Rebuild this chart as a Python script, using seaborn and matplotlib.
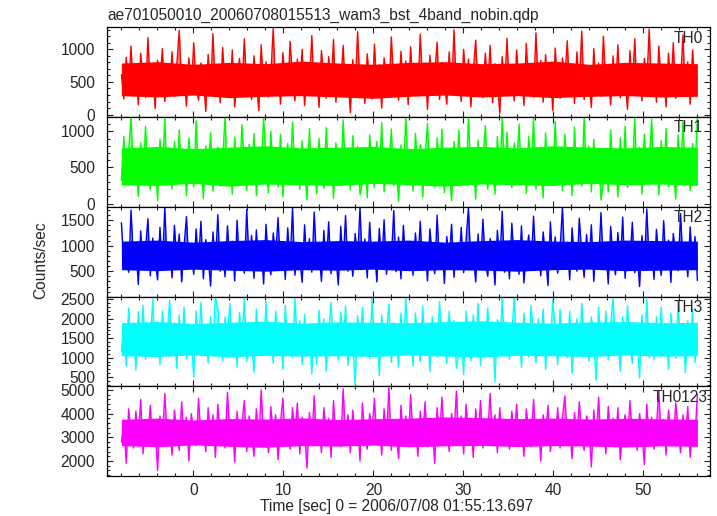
import os
import numpy as np
import pandas as pd
import matplotlib
matplotlib.use("Agg")
import matplotlib.pyplot as plt
import seaborn as sns
from matplotlib import font_manager as fm
from matplotlib.ticker import MultipleLocator, FixedLocator

sns.set_style("ticks")
plt.rcParams['font.family'] = ['Liberation Sans', 'DejaVu Sans']

# ---------------- data ----------------
TITLE = "ae701050010_20060708015513_wam3_bst_4band_nobin.qdp"
X_LABEL = "Time [sec] 0 = 2006/07/08 01:55:13.697"
Y_LABEL = "Counts/sec"
T_START, T_END = -8.0, 56.0
X_TICKS = [0, 10, 20, 30, 40, 50]

bands = ["TH0", "TH1", "TH2", "TH3", "TH0123"]
colors = ["#ff0000", "#00ff00", "#0000ff", "#00ffff", "#ff00ff"]
mean_rate = [540, 510, 820, 1480, 3250]
y_ticks = [[0, 500, 1000], [0, 500, 1000], [500, 1000, 1500],
           [500, 1000, 1500, 2000, 2500], [2000, 3000, 4000, 5000]]

th0 = [610, 240, 880, 420, 1050, 310, 720, 150, 940, 530, 260, 1180, 380, 690, 90, 830, 470, 1010, 200, 640,
       350, 960, 280, 770, 1290, 410, 560, 130, 870, 330, 1100, 460, 220, 790, 600, 50, 920, 370, 1240, 290,
       680, 180, 1030, 450, 750, 260, 990, 120, 580, 860, 340, 1160, 430, 700, 230, 900, 510, 60, 1070, 390,
       810, 270, 620, 1320, 350, 740, 160, 950, 480, 300, 1120, 570, 210, 850, 400, 1000, 140, 730, 440, 1210,
       320, 660, 110, 980, 520, 250, 890, 380, 1150, 190, 710, 460, 1060, 280, 590, 30, 840, 360, 1270, 420,
       630, 170, 930, 500, 240, 1080, 390, 760, 100, 870, 540, 310, 1190, 440, 680, 220, 970, 350, 820, 150,
       1040, 410, 580, 290, 1230, 470, 700, 80, 910, 360, 620, 1110, 230, 800, 490, 160, 960, 310, 1300, 380,
       720, 200, 1000, 450, 850, 120, 670, 1140, 340, 560, 260, 940, 430, 1060, 180, 780, 510, 20, 890, 400,
       1170, 300, 640, 210, 990, 480, 750, 140, 1090, 370, 600, 270, 1250, 420, 830, 190, 920, 330, 690, 60,
       1020, 460, 250, 870, 550, 1130, 320, 740, 170, 960, 410, 1280, 230, 650, 500, 110, 1010, 380, 790, 280,
       1200, 440, 610, 150, 900, 350, 1070, 260, 720, 520, 80, 980, 390, 1160, 300, 680, 210, 860, 470, 1310,
       340, 770, 190, 1050, 430, 620, 120, 940, 370, 1100, 250, 700, 480, 1220, 290, 810, 160, 990, 400, 560]
th1 = [320, 930, 250, 740, 1200, 380, 530, 100, 840, 300, 1070, 430, 190, 760, 570, 40, 890, 340, 1190, 260,
       540, 200, 860, 370, 1020, 280, 690, 110, 910, 480, 230, 1150, 350, 660, 70, 800, 440, 980, 170, 610,
       780, 240, 590, 1200, 320, 710, 130, 920, 450, 270, 1090, 540, 180, 820, 370, 970, 110, 700, 410, 1180,
       650, 150, 1000, 420, 720, 230, 960, 90, 550, 830, 310, 1130, 400, 670, 200, 870, 480, 50, 1040, 360,
       600, 140, 900, 470, 210, 1050, 360, 730, 70, 840, 510, 280, 1160, 410, 650, 190, 940, 320, 790, 120,
       290, 630, 80, 950, 490, 220, 860, 350, 1120, 160, 680, 430, 1030, 250, 560, 30, 810, 330, 1200, 390,
       690, 170, 970, 420, 820, 90, 640, 1110, 310, 530, 230, 910, 400, 1030, 150, 750, 480, 40, 860, 370,
       1010, 380, 550, 260, 1190, 440, 670, 60, 880, 330, 590, 1080, 200, 770, 460, 130, 930, 280, 1200, 350,
       990, 430, 220, 840, 520, 1100, 290, 710, 140, 930, 380, 1190, 200, 620, 470, 80, 980, 350, 760, 250,
       1140, 270, 610, 180, 960, 450, 720, 110, 1060, 340, 570, 240, 1200, 390, 800, 160, 890, 300, 660, 50,
       310, 740, 160, 1020, 400, 590, 90, 910, 340, 1070, 220, 670, 450, 1180, 260, 780, 130, 960, 370, 530,
       1170, 410, 580, 120, 870, 320, 1040, 230, 690, 490, 60, 950, 360, 1130, 270, 650, 180, 830, 440, 1200]
th2 = [1450, 640, 870, 480, 1700, 710, 1030, 240, 1290, 590, 920, 1530, 410, 1150, 730, 330, 1360, 520, 1750, 600,
       1060, 370, 1400, 690, 1230, 290, 990, 1570, 560, 840, 440, 1330, 670, 1480, 350, 1120, 760, 210, 1270, 630,
       1610, 500, 950, 390, 1390, 720, 1090, 310, 1500, 600, 900, 460, 1710, 650, 1200, 360, 1310, 540, 1020, 250,
       1420, 700, 430, 1250, 810, 1550, 520, 1080, 340, 1350, 630, 1740, 420, 970, 750, 280, 1410, 590, 1140, 480,
       1660, 680, 910, 300, 1300, 570, 1470, 450, 1050, 780, 230, 1380, 610, 1590, 500, 1010, 400, 1240, 720, 1755,
       560, 1130, 370, 1460, 660, 940, 290, 1340, 600, 1510, 440, 1040, 730, 1690, 490, 1170, 350, 1400, 620, 860,
       900, 420, 1250, 650, 1480, 520, 1050, 310, 1330, 780, 450, 1600, 610, 1010, 260, 1180, 700, 1420, 380, 950,
       560, 1360, 470, 1100, 1740, 640, 840, 290, 1230, 540, 1520, 690, 400, 1140, 880, 230, 1300, 590, 1680, 480,
       1000, 350, 1440, 680, 1080, 440, 1390, 270, 860, 1210, 560, 1580, 660, 1030, 410, 1270, 760, 220, 1470, 610,
       1170, 460, 920, 1760, 580, 1070, 330, 1350, 720, 500, 1540, 840, 380, 1220, 630, 1410, 300, 1060, 670, 1650,
       540, 980, 250, 1380, 760, 430, 1260, 600, 1560, 360, 1040, 690, 1460, 470, 890, 200, 1200, 570, 1720, 650,
       940, 340, 1320, 740, 420, 1490, 620, 1110, 280, 1240, 800, 510, 1630, 680, 1000, 390, 1370, 560, 1180, 320]
th3 = [1150, 1850, 780, 2280, 1280, 1640, 680, 2180, 1200, 2350, 950, 1750, 1400, 2500, 1050, 1920, 820, 2200, 1260, 1580,
       2480, 1300, 1620, 720, 2100, 1120, 2300, 980, 1760, 1450, 500, 2200, 1230, 2430, 1080, 1680, 860, 2050, 1380, 2560,
       2280, 1350, 920, 2050, 1500, 2400, 1130, 1800, 760, 2170, 1250, 2520, 900, 1700, 1420, 620, 2250, 1160, 1880, 1050,
       2450, 1060, 1650, 860, 2200, 1400, 1820, 700, 2350, 1180, 1600, 1000, 2540, 1280, 1950, 820, 2120, 1100, 1720, 580,
       1750, 830, 2220, 1300, 2000, 660, 1680, 2420, 1150, 1560, 940, 2180, 1320, 2330, 800, 1880, 1420, 300, 2080, 1250,
       2300, 1280, 1550, 980, 2520, 1350, 1800, 540, 2100, 1200, 1650, 2380, 880, 1900, 1380, 760, 2150, 1060, 2550, 1220,
       1650, 780, 2150, 1380, 900, 2320, 1240, 1850, 640, 2050, 1480, 1020, 2450, 1300, 1700, 850, 2200, 1150, 1950, 720,
       1120, 1680, 560, 2200, 1420, 920, 2100, 1230, 2400, 800, 1780, 1300, 2280, 1050, 1600, 380, 1980, 1180, 2530, 1260,
       1900, 950, 1600, 2560, 1100, 1800, 750, 2150, 1350, 1020, 2350, 1550, 860, 2000, 1250, 2250, 700, 1750, 1300, 2480,
       1700, 820, 2250, 1300, 1850, 1000, 2200, 600, 1500, 2000, 1100, 2400, 1280, 1750, 900, 2050, 1400, 420, 2300, 1200,
       1100, 2200, 940, 1850, 2550, 1250, 1500, 650, 2050, 1150, 2350, 1350, 850, 1900, 1550, 480, 2100, 1180, 2500, 1000,
       1600, 950, 2050, 1250, 2300, 1050, 1800, 700, 2150, 1400, 980, 2450, 1200, 1750, 620, 1950, 1300, 2250, 880, 1650]
th0123 = [2800, 3550, 1900, 4200, 3200, 2550, 4100, 2950, 4600, 2300, 3750, 3050, 4350, 2650, 3450, 1600, 3900, 2850, 4850, 2950,
          3550, 2250, 4150, 3100, 2450, 4500, 2950, 3850, 2000, 4000, 3250, 2650, 4650, 3000, 3650, 2400, 4250, 2800, 3950, 2150,
          4400, 3050, 3400, 2550, 4900, 3150, 3700, 1950, 4100, 2850, 3550, 4550, 2400, 3900, 3100, 2200, 4200, 2700, 5000, 2900,
          3700, 2350, 4300, 3050, 3950, 2050, 3600, 4650, 2800, 3400, 2500, 4250, 3000, 4450, 2300, 3850, 3200, 1700, 4050, 2900,
          4750, 2700, 3550, 2350, 4250, 3150, 3800, 2150, 4550, 2900, 3500, 2600, 5050, 3000, 3950, 2350, 4150, 2800, 3650, 2000,
          4450, 3100, 2500, 4000, 3300, 4650, 2800, 3750, 2250, 4200, 2950, 5100, 2450, 3600, 3200, 2100, 4350, 2850, 3900, 2650,
          4800, 3000, 3550, 2200, 4100, 2850, 4500, 2600, 3750, 3300, 1900, 4250, 2950, 4700, 2750, 3650, 2400, 4000, 3100, 4950,
          2800, 3900, 2300, 4400, 3000, 3600, 2150, 4200, 2900, 4550, 2550, 3750, 3200, 4850, 2700, 3950, 2350, 4250, 2950, 3450,
          3400, 2500, 4100, 2950, 4400, 2700, 3700, 2200, 4200, 3200, 2600, 4600, 2900, 3650, 2000, 3950, 3050, 4350, 2400, 3500,
          2800, 4250, 2550, 3850, 4750, 2950, 3300, 2100, 4050, 2850, 4500, 3100, 2450, 3900, 3450, 1750, 4150, 2900, 4700, 2650,
          3600, 2300, 4300, 3050, 3800, 2600, 4250, 2050, 3300, 3950, 2750, 4550, 3000, 3650, 2450, 4000, 3150, 1850, 4400, 2900,
          3850, 2500, 3450, 4950, 2800, 3750, 2250, 4150, 3100, 2700, 4450, 3350, 2350, 3950, 2950, 4300, 2150, 3700, 3000, 4800]

# densely filled core of each light curve (lower / upper edge, one value every 4 s)
core_lo = [
    [290, 270, 300, 260, 280, 290, 270, 250, 280, 300, 270, 290, 260, 280, 290, 270, 280],
    [260, 250, 280, 240, 270, 260, 250, 280, 260, 240, 270, 260, 250, 280, 260, 270, 250],
    [530, 510, 540, 520, 500, 530, 520, 540, 510, 530, 520, 500, 530, 540, 510, 520, 530],
    [1050, 1030, 1070, 1020, 1060, 1040, 1050, 1030, 1070, 1040, 1020, 1060, 1050, 1030, 1070, 1040, 1050],
    [2650, 2600, 2680, 2620, 2580, 2650, 2630, 2670, 2600, 2640, 2660, 2610, 2650, 2630, 2590, 2640, 2620],
]
core_hi = [
    [790, 810, 770, 800, 780, 820, 790, 770, 800, 810, 780, 790, 820, 770, 800, 790, 780],
    [770, 790, 760, 780, 800, 770, 780, 790, 760, 780, 790, 770, 800, 780, 770, 790, 780],
    [1090, 1110, 1070, 1100, 1120, 1080, 1100, 1090, 1110, 1070, 1100, 1120, 1090, 1080, 1110, 1100, 1090],
    [1900, 1930, 1880, 1910, 1940, 1890, 1920, 1910, 1900, 1930, 1950, 1910, 1890, 1920, 1930, 1900, 1910],
    [3760, 3810, 3730, 3790, 3770, 3820, 3750, 3780, 3810, 3860, 3830, 3790, 3810, 3770, 3800, 3780, 3760],
]
series = [th0, th1, th2, th3, th0123]

# ---------------- font ----------------
font_path = None
for f in fm.findSystemFonts():
    if os.path.basename(f).lower() == "liberationsans-regular.ttf":
        font_path = f
        break
FS = 11.2
if font_path:
    fm.fontManager.addfont(font_path)
    FP = fm.FontProperties(fname=font_path, size=FS)
else:
    FP = fm.FontProperties(family=["Liberation Sans", "DejaVu Sans"], size=FS)

# ---------------- layout ----------------
W, H = 717, 516
fig = plt.figure(figsize=(W / 100, H / 100), dpi=100)
ylims = [(-32, 1337), (-44, 1202), (0, 1765), (270, 2570), (1367, 5165)]
minors = [100, 100, 100, 100, 200]
tops = [27.3, 116.7, 206.7, 296.7, 386.0, 476.0]
label_right = [703, 703, 703, 703, 708]
left_px, right_px = 107, 710

for i, (name, col, vals) in enumerate(zip(bands, colors, series)):
    top, bot = tops[i], tops[i + 1]
    ax = fig.add_axes([left_px / W, 1 - bot / H, (right_px - left_px) / W, (bot - top) / H])
    t = np.linspace(T_START, T_END, len(vals))
    tc = np.linspace(T_START, T_END, len(core_lo[i]))
    ax.fill_between(t, vals, mean_rate[i], color=col, alpha=0.5, lw=0, zorder=1)
    ax.fill_between(tc, core_lo[i], core_hi[i], color=col, lw=0, zorder=1.5)
    df = pd.DataFrame({"t": t, "rate": vals})
    sns.lineplot(data=df, x="t", y="rate", ax=ax, color=col, linewidth=1.0,
                 estimator=None, sort=False, zorder=2)
    ax.set_xlim(-9.6, 57.4)
    ax.set_ylim(*ylims[i])
    ax.xaxis.set_major_locator(FixedLocator(X_TICKS))
    ax.xaxis.set_minor_locator(MultipleLocator(2))
    ax.yaxis.set_major_locator(FixedLocator(y_ticks[i]))
    ax.yaxis.set_minor_locator(MultipleLocator(minors[i]))
    ax.tick_params(which="both", direction="in", top=True, right=True, width=0.8, color="#222222")
    ax.tick_params(which="major", length=4.5)
    ax.tick_params(which="minor", length=2.5)
    ax.tick_params(axis="y", pad=8.5)
    ax.tick_params(axis="x", pad=5)
    ax.set_xlabel("")
    ax.set_ylabel("")
    for lab in ax.get_xticklabels() + ax.get_yticklabels():
        lab.set_fontproperties(FP)
    if i < len(bands) - 1:
        ax.tick_params(axis="x", labelbottom=False)
    for s in ax.spines.values():
        s.set_linewidth(0.9)
        s.set_color("black")
        s.set_zorder(5)
    ax.text((label_right[i] - left_px) / (right_px - left_px), 1 - 3.5 / (bot - top), name,
            transform=ax.transAxes, ha="right", va="top", fontproperties=FP, zorder=6)

fig.text(107 / W, 1 - 19.5 / H, TITLE, ha="left", va="baseline", fontproperties=FP)
fig.text(397 / W, 1 - 511.5 / H, X_LABEL, ha="center", va="baseline", fontproperties=FP)
fig.text(41 / W, 1 - 260 / H, Y_LABEL, ha="center", va="center", rotation=90, fontproperties=FP)

fig.savefig("out.png", dpi=100)
